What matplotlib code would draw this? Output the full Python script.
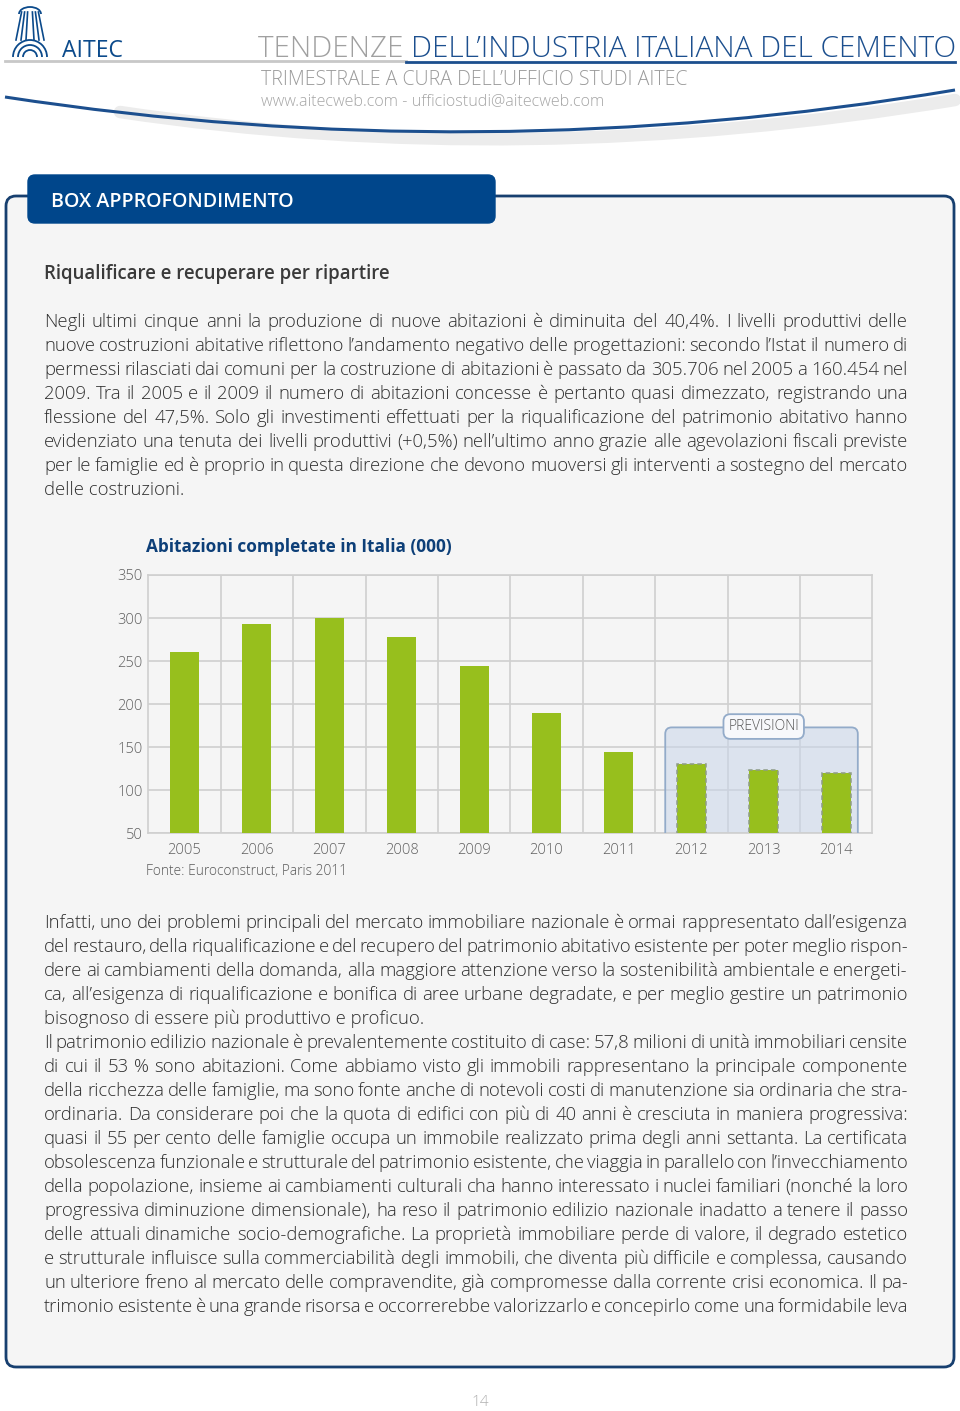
import matplotlib
matplotlib.use('Agg')
import matplotlib.pyplot as plt
from matplotlib.patches import FancyBboxPatch, Arc, PathPatch
from matplotlib.path import Path
from matplotlib import font_manager
import numpy as np

# ---------------- data ----------------
years = ['2005', '2006', '2007', '2008', '2009', '2010', '2011', '2012', '2013', '2014']
values = [260, 293, 300, 278, 244, 190, 144, 131, 124, 120]
is_forecast = [False, False, False, False, False, False, False, True, True, True]
yticks = [50, 100, 150, 200, 250, 300, 350]
chart_title = 'Abitazioni completate in Italia (000)'
source = 'Fonte: Euroconstruct, Paris 2011'
forecast_label = 'PREVISIONI'

para1 = [
    "Negli ultimi cinque anni la produzione di nuove abitazioni è diminuita del 40,4%. I livelli produttivi delle",
    "nuove costruzioni abitative riflettono l’andamento negativo delle progettazioni: secondo l’Istat il numero di",
    "permessi rilasciati dai comuni per la costruzione di abitazioni è passato da 305.706 nel 2005 a 160.454 nel",
    "2009. Tra il 2005 e il 2009 il numero di abitazioni concesse è pertanto quasi dimezzato, registrando una",
    "flessione del 47,5%. Solo gli investimenti effettuati per la riqualificazione del patrimonio abitativo hanno",
    "evidenziato  una tenuta dei livelli produttivi (+0,5%) nell’ultimo anno grazie alle agevolazioni fiscali previste",
    "per le famiglie ed è proprio in questa direzione che devono muoversi gli interventi a sostegno del mercato",
    "delle costruzioni.",
]
para1_last = [7]
para2 = [
    "Infatti, uno dei problemi principali del mercato immobiliare nazionale è ormai rappresentato dall’esigenza",
    "del restauro, della riqualificazione e del recupero del patrimonio abitativo esistente per poter meglio  rispon-",
    "dere ai cambiamenti della domanda, alla maggiore attenzione verso la sostenibilità ambientale e energeti-",
    "ca, all’esigenza di riqualificazione e bonifica di aree urbane degradate, e per meglio gestire un patrimonio",
    "bisognoso di essere più produttivo e proficuo.",
    "Il patrimonio edilizio nazionale è prevalentemente costituito di case: 57,8 milioni di unità immobiliari censite",
    "di cui il 53 % sono abitazioni. Come abbiamo visto gli immobili rappresentano la principale componente",
    "della ricchezza delle famiglie, ma sono fonte anche di notevoli costi di manutenzione sia ordinaria che stra-",
    "ordinaria. Da considerare poi che la quota di edifici con più di 40 anni è cresciuta in maniera progressiva:",
    "quasi il 55 per cento delle famiglie occupa un immobile realizzato prima degli anni settanta. La certificata",
    "obsolescenza funzionale e strutturale del patrimonio esistente, che viaggia in parallelo con l’invecchiamento",
    "della popolazione, insieme ai cambiamenti culturali cha hanno interessato i nuclei familiari (nonché la loro",
    "progressiva diminuzione dimensionale), ha reso il patrimonio edilizio nazionale inadatto a tenere il passo",
    "delle attuali dinamiche socio-demografiche. La proprietà immobiliare perde di valore, il degrado estetico",
    "e strutturale influisce sulla commerciabilità degli immobili, che diventa più difficile e complessa, causando",
    "un ulteriore freno al mercato delle compravendite, già compromesse dalla corrente crisi economica. Il pa-",
    "trimonio esistente è una grande risorsa e occorrerebbe valorizzarlo e concepirlo come una formidabile leva",
]
para2_last = [4]

# ---------------- style ----------------
names = {f.name for f in font_manager.fontManager.ttflist}
FONT = ['Open Sans', 'DejaVu Sans'] if 'Open Sans' in names else ['DejaVu Sans']
BLUE = '#0b4a8b'
DARKBLUE = '#0d3f78'
GREEN = '#97bf1d'
TXT = '#2f2f2f'
plt.rcParams['font.family'] = FONT

W, H = 960, 1411
fig = plt.figure(figsize=(W / 100, H / 100), dpi=100)
fig.patch.set_facecolor('white')
pg = fig.add_axes([0, 0, 1, 1])
pg.set_xlim(0, W)
pg.set_ylim(H, 0)
pg.axis('off')
R = fig.canvas.get_renderer()


def width_of(t):
    return t.get_window_extent(renderer=R).width


def fit_text(x0, x1, y, s, ref=10, **kw):
    kw.setdefault('va', 'baseline')
    t = pg.text(x0, y, s, fontsize=ref, **kw)
    t.set_fontsize(ref * (x1 - x0) / width_of(t))
    return t


# ---------------- header ----------------
for r in (7, 12, 17):
    pg.add_patch(Arc((30, 57), 2 * r, 2 * r, theta1=180, theta2=360, color=BLUE, lw=1.3))
for dx in (-14, -9, -4, 4, 9, 14):
    pg.plot([30 + dx, 30 + dx * 0.6], [40, 12], color=BLUE, lw=1.2)
pg.add_patch(Arc((30, 14), 22, 14, theta1=180, theta2=360, color=BLUE, lw=1.3))
fit_text(62, 123, 57, 'AITEC', color=BLUE)

head_full = 'TENDENZE DELL’INDUSTRIA ITALIANA DEL CEMENTO'
t = pg.text(0, 0, head_full, fontsize=10, fontweight='light')
hs = 10 * (955 - 258) / width_of(t)
t.remove()
t1 = pg.text(258, 57, 'TENDENZE ', fontsize=hs, fontweight='light', color='#a0a0a0', va='baseline')
w1 = width_of(t1)
pg.text(258 + w1, 57, 'DELL’INDUSTRIA ITALIANA DEL CEMENTO', fontsize=hs, fontweight='light',
        color='#1c4f8e', va='baseline')
pg.plot([5, 406], [61, 61], color='#c8c8c8', lw=2)
pg.plot([406, 955], [61.5, 61.5], color='#1c4f8e', lw=2)
fit_text(261, 686, 85, 'TRIMESTRALE A CURA DELL’UFFICIO STUDI AITEC', color='#9a9a9a', fontweight='light')
fit_text(261, 603, 105, 'www.aitecweb.com - ufficiostudi@aitecweb.com', color='#a5a5a5', fontweight='light')

sw_shadow = Path([(120, 112), (520, 172), (955, 100)], [Path.MOVETO, Path.CURVE3, Path.CURVE3])
pg.add_patch(PathPatch(sw_shadow, fc='none', ec='#ececec', lw=9, capstyle='round'))
sw = Path([(5, 97), (480, 170), (955, 90)], [Path.MOVETO, Path.CURVE3, Path.CURVE3])
pg.add_patch(PathPatch(sw, fc='none', ec='#1c4f8e', lw=2.2))

# ---------------- box ----------------
pg.add_patch(FancyBboxPatch((6, 196), 948, 1171, boxstyle='round,pad=0,rounding_size=10',
                            fc='#f5f5f5', ec='#173f6f', lw=2, zorder=0))
pg.add_patch(FancyBboxPatch((28, 175), 467, 48, boxstyle='round,pad=0,rounding_size=7',
                            fc='#00468b', ec='#00468b', lw=1, zorder=1))
fit_text(51, 293, 207, 'BOX APPROFONDIMENTO', color='white', fontweight='semibold', zorder=2)
fit_text(44, 389, 279, 'Riqualificare e recuperare per ripartire', color='#3a3a3a', fontweight='semibold')

# body text, justified
X0, X1 = 44, 908
BW = 'light'
probe = pg.text(0, 0, 'a b', fontsize=12, fontweight=BW)
wab = width_of(probe)
probe.set_text('ab')
space = wab - width_of(probe)
need = 0
for ln in para1 + para2:
    words = ln.split()
    s = 0
    for w in words:
        probe.set_text(w)
        s += width_of(probe)
    need = max(need, s + 0.55 * space * (len(words) - 1))
probe.remove()
BS = min(13.5, 12 * (X1 - X0) / need)


def draw_para(lines, base, last_idx):
    for k, ln in enumerate(lines):
        y = base + 24 * k
        if k in last_idx:
            pg.text(X0, y, ln, fontsize=BS, fontweight=BW, color=TXT, va='baseline')
            continue
        words = ln.split()
        ts = [pg.text(0, y, w, fontsize=BS, fontweight=BW, color=TXT, va='baseline') for w in words]
        ws = [width_of(t) for t in ts]
        gap = (X1 - X0 - sum(ws)) / (len(words) - 1)
        x = X0
        for t, w in zip(ts, ws):
            t.set_x(x)
            x += w + gap


draw_para(para1, 327, para1_last)
draw_para(para2, 928, para2_last)

pg.text(480, 1403, '14', fontsize=11, color='#b0b0b0', ha='center', va='center', fontweight='light')

# ---------------- chart ----------------
fit_text(146, 452, 552, chart_title, color=DARKBLUE, fontweight='bold')
fit_text(146, 347, 875, source, color='#5a5a5a', fontweight='light')

ax = fig.add_axes([148.3 / W, 1 - 833.3 / H, 724 / W, 258.3 / H])
ax.set_facecolor('#f5f5f5')
x = np.arange(len(years))
for i, (v, f) in enumerate(zip(values, is_forecast)):
    if f:
        ax.bar(i, v, width=0.4, color=GREEN, edgecolor='#8f9c86', linestyle=(0, (3, 2)), linewidth=1.1, zorder=4)
    else:
        ax.bar(i, v, width=0.4, color=GREEN, linewidth=0, zorder=4)
ax.set_xlim(-0.5, len(years) - 0.5)
ax.set_ylim(yticks[0], yticks[-1])
ax.set_yticks(yticks)
ax.set_xticks(x, years)
ax.set_xticks(x[:-1] + 0.5, minor=True)
ax.grid(True, axis='y', which='major', color='#cfcfcf', lw=1.2, zorder=0)
ax.grid(True, axis='x', which='minor', color='#cfcfcf', lw=1.2, zorder=0)
ax.grid(False, axis='x', which='major')
ax.set_axisbelow(True)
for sp in ax.spines.values():
    sp.set_color('#cfcfcf')
    sp.set_linewidth(1.2)
ax.tick_params(axis='both', which='both', length=0, colors='#606060', labelsize=10.5)
ax.tick_params(axis='y', pad=4)
ax.tick_params(axis='x', pad=7)
for lab in ax.get_xticklabels() + ax.get_yticklabels():
    lab.set_fontweight('light')

fc_idx = [i for i, f in enumerate(is_forecast) if f]
left = fc_idx[0] - 0.36
right = fc_idx[-1] + 0.30
px_x = 724 / len(years)
px_y = 258.3 / (yticks[-1] - yticks[0])
ax.add_patch(FancyBboxPatch((left, 40), right - left, 173 - 40,
                            boxstyle='round,pad=0,rounding_size=0.09', mutation_aspect=px_x / px_y,
                            fc='#c9d5ea', alpha=0.55, ec='none', zorder=2))
ax.add_patch(FancyBboxPatch((left, 40), right - left, 173 - 40,
                            boxstyle='round,pad=0,rounding_size=0.09', mutation_aspect=px_x / px_y,
                            fc='none', ec='#93abc9', lw=1.3, zorder=3))
ax.text((fc_idx[0] + fc_idx[-1]) / 2, 174, forecast_label, ha='center', va='center', fontsize=10,
        color='#555555', fontweight='light', zorder=6,
        bbox=dict(boxstyle='round,pad=0.35,rounding_size=0.5', fc='#f7f8fb', ec='#93abc9', lw=1.3))

fig.savefig('out.png', dpi=100)
